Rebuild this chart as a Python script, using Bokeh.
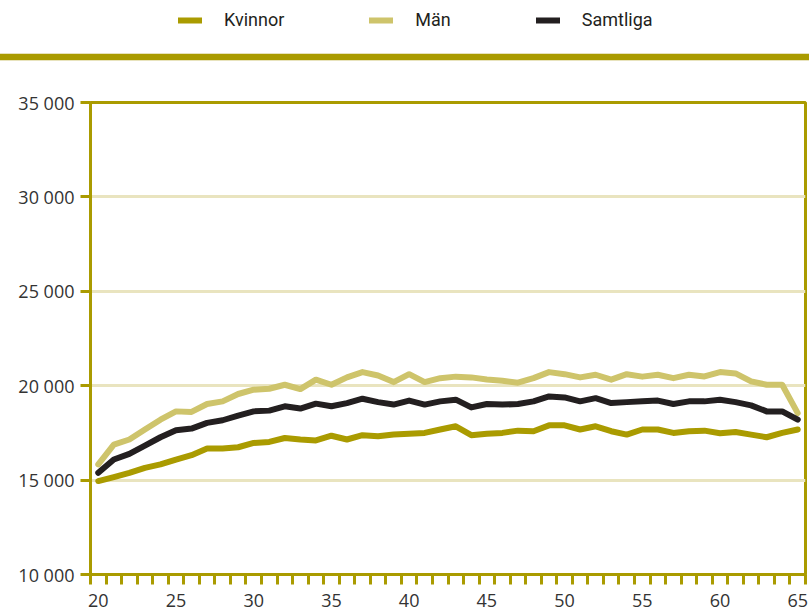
from bokeh.plotting import figure
from bokeh.models import Range1d, FixedTicker, Legend, LegendItem, Div
from bokeh.layouts import column
from bokeh.embed import file_html
from bokeh.resources import INLINE

# ---- data ----
ages = list(range(20, 66))
kvinnor = [14950, 15160, 15380, 15650, 15830, 16090, 16320, 16670, 16670, 16740,
           16970, 17020, 17230, 17150, 17100, 17350, 17150, 17380, 17320, 17410,
           17450, 17500, 17680, 17850, 17380, 17450, 17500, 17620, 17590, 17900,
           17900, 17680, 17850, 17590, 17410, 17680, 17680, 17500, 17590, 17620,
           17480, 17550, 17410, 17270, 17500, 17680]
man = [15830, 16880, 17150, 17680, 18200, 18640, 18610, 19030, 19170, 19560,
       19790, 19840, 20050, 19820, 20320, 20050, 20440, 20720, 20540, 20190,
       20610, 20190, 20400, 20480, 20440, 20330, 20260, 20160, 20400, 20720,
       20610, 20440, 20580, 20320, 20610, 20480, 20580, 20400, 20580, 20490,
       20720, 20650, 20230, 20050, 20050, 18550]
samtliga = [15390, 16090, 16390, 16830, 17270, 17640, 17730, 18030, 18170, 18420,
            18640, 18680, 18910, 18790, 19050, 18910, 19080, 19310, 19130, 19000,
            19210, 19000, 19170, 19260, 18850, 19030, 19000, 19030, 19170, 19430,
            19380, 19170, 19340, 19080, 19130, 19170, 19210, 19030, 19170, 19170,
            19260, 19130, 18960, 18640, 18640, 18200]
series_names = ["Kvinnor", "Män", "Samtliga"]
x_label_ticks = [20, 25, 30, 35, 40, 45, 50, 55, 60, 65]
y_ticks = [10000, 15000, 20000, 25000, 30000, 35000]
y_tick_labels = ["10 000", "15 000", "20 000", "25 000", "30 000", "35 000"]

# ---- style ----
OLIVE = "#aa9b00"
LIGHT = "#cec46b"
DARK = "#231f20"
GRID = "#e9e4bf"
colors = [OLIVE, LIGHT, DARK]
values = [kvinnor, man, samtliga]

W = 809
TOP_H = 53
BAND_H = 8
MAIN_H = 612 - TOP_H - BAND_H
LEFT = 90
RIGHT = 4

# ---- top strip: legend ----
top = figure(width=W, height=TOP_H, x_range=Range1d(0, 1), y_range=Range1d(0, 1),
             output_backend="svg", toolbar_location=None,
             min_border_left=LEFT, min_border_right=RIGHT,
             min_border_top=0, min_border_bottom=0,
             x_axis_type=None, y_axis_type=None)
top.outline_line_color = None
top.grid.visible = False
items = []
for name, c, vals in zip(series_names, colors, values):
    r = top.line(ages, vals, line_color=c, line_width=6, line_cap="round", visible=False)
    items.append(LegendItem(label=name, renderers=[r]))
legend = Legend(items=items, orientation="horizontal", location=(88, 23),
                spacing=85, glyph_width=24, glyph_height=20, label_height=20,
                label_standoff=22, padding=0, margin=0,
                border_line_color=None, background_fill_alpha=0,
                inactive_fill_alpha=0,
                label_text_font="Roboto", label_text_font_size="18px",
                label_text_color=DARK)
top.add_layout(legend)

# ---- decorative band ----
band = Div(text="", width=W, height=BAND_H, margin=0,
           styles={"background-color": OLIVE,
                   "border-top": "1px solid #e8e3bd",
                   "border-bottom": "1px solid #e8e3bd",
                   "box-sizing": "border-box"})

# ---- main chart ----
p = figure(width=W, height=MAIN_H, x_range=Range1d(19.5, 65.5),
           y_range=Range1d(10000, 35000), output_backend="svg",
           toolbar_location=None, min_border_left=LEFT, min_border_right=RIGHT,
           min_border_top=41, min_border_bottom=38)

for vals, c in zip(values, colors):
    p.line(ages, vals, line_color=c, line_width=6, line_join="round",
           line_cap="round")

p.xaxis.ticker = FixedTicker(ticks=x_label_ticks,
                             minor_ticks=[a - 0.5 for a in ages] + [ages[-1] + 0.5])
p.xaxis.major_tick_out = 0
p.xaxis.major_tick_in = 0
p.xaxis.minor_tick_out = 10
p.xaxis.minor_tick_in = 0
p.xaxis.minor_tick_line_color = OLIVE
p.xaxis.minor_tick_line_width = 3
p.xaxis.major_label_standoff = 9

p.yaxis.ticker = FixedTicker(ticks=y_ticks)
p.yaxis.major_label_overrides = dict(zip(y_ticks, y_tick_labels))
p.yaxis.major_tick_out = 10
p.yaxis.major_tick_in = 0
p.yaxis.major_tick_line_color = OLIVE
p.yaxis.major_tick_line_width = 3
p.yaxis.minor_tick_line_color = None
p.yaxis.major_label_standoff = 6

for ax in (p.xaxis, p.yaxis):
    ax.axis_line_color = OLIVE
    ax.axis_line_width = 3
    ax.major_label_text_font = "Open Sans"
    ax.major_label_text_font_size = "18px"
    ax.major_label_text_color = "#333333"

p.xgrid.visible = False
p.ygrid.ticker = FixedTicker(ticks=y_ticks[1:-1])
p.ygrid.grid_line_color = GRID
p.ygrid.grid_line_width = 3
p.outline_line_color = OLIVE
p.outline_line_width = 3
p.outline_line_alpha = 1

layout = column(top, band, p, spacing=0)
open("out.html", "w").write(file_html(layout, INLINE))
